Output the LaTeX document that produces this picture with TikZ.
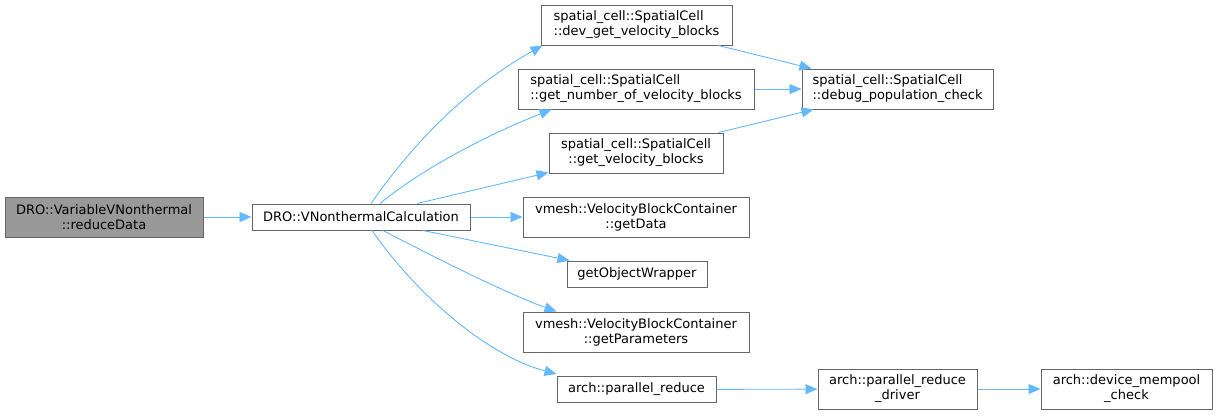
\documentclass[tikz,border=0pt]{standalone}
\usepackage{fontspec}
\setmainfont{DejaVu Sans}
\usetikzlibrary{arrows.meta}

\begin{document}
\begin{tikzpicture}[
    x=1pt, y=-1pt,
    every node/.style={font=\fontsize{13}{15}\selectfont},
]

% ---------------------------------------------------------------- colours
\definecolor{edgecol}{HTML}{63B8FF}   % the calls
\definecolor{boxline}{HTML}{666666}   % every box outline
\definecolor{rootfill}{HTML}{999999}  % the function the graph is about

% ================================================================
% Geometry in reference pixels (y grows downwards):
%   call column  x = 636, boxes 40 high (two lines) or 26 (one line)
%   second column x = 897.5, last box on the bottom row at x = 1126.5
% ================================================================

\useasboundingbox (0,0) rectangle (1217,415);

\tikzset{
    fnbox/.style={
        draw=boxline, line width=1pt, fill=white,
        inner sep=0pt, align=center,
        minimum height=40pt,
    },
    fnone/.style={fnbox, minimum height=26pt},
    rootbox/.style={fnbox, fill=rootfill},
    edge/.style={draw=edgecol, line width=0.9pt,
        -{Triangle[length=12pt, width=10pt]}},
}

% ================================================================ left
\node[rootbox, minimum width=198pt] (root) at (104,217)
    {DRO::VariableVNonthermal\\::reduceData};
\node[fnone, minimum width=218pt] (calc) at (361,217)
    {DRO::VNonthermalCalculation};

% ================================================================ callees
\node[fnbox, align=left, minimum width=191pt] (devblocks) at (636.5,25)
    {spatial\_cell::SpatialCell\\::dev\_get\_velocity\_blocks};
\node[fnbox, align=left, minimum width=236pt] (nblocks) at (636,89)
    {spatial\_cell::SpatialCell\\::get\_number\_of\_velocity\_blocks};
\node[fnbox, minimum width=174pt] (vblocks) at (636,153)
    {spatial\_cell::SpatialCell\\::get\_velocity\_blocks};
\node[fnbox, minimum width=226pt] (getdata) at (636,217)
    {vmesh::VelocityBlockContainer\\::getData};
\node[fnone, minimum width=140pt] (objwrap) at (637,274)
    {getObjectWrapper};
\node[fnbox, minimum width=226pt] (getparams) at (636,332)
    {vmesh::VelocityBlockContainer\\::getParameters};
\node[fnone, minimum width=159pt] (preduce) at (636.5,389.5)
    {arch::parallel\_reduce};

% ================================================================ right
\node[fnbox, align=left, minimum width=191pt] (popcheck) at (897.5,89)
    {spatial\_cell::SpatialCell\\::debug\_population\_check};
\node[fnbox, minimum width=159pt] (redriver) at (897.5,389)
    {arch::parallel\_reduce\\\_driver};
\node[fnbox, minimum width=171pt] (mempool) at (1126.5,389)
    {arch::device\_mempool\\\_check};

% ================================================================ calls
\draw[edge] (root) -- (calc);

\draw[edge] ([xshift=10pt]calc.north)
    .. controls +(46,-66) and +(-70,39) .. ([xshift=2pt]devblocks.south west);
\draw[edge] ([xshift=19pt]calc.north)
    .. controls +(46,-38) and +(-56,22) .. ([xshift=34pt]nblocks.south west);
\draw[edge] ([xshift=56pt]calc.north) -- ([yshift=1pt]vblocks.south west);
\draw[edge] (calc) -- (getdata);
\draw[edge] ([xshift=62pt]calc.south) -- ([xshift=3pt]objwrap.north west);
\draw[edge] ([xshift=22pt]calc.south)
    .. controls +(50,26) and +(-50,-18) .. ([xshift=34pt]getparams.north west);
\draw[edge] ([xshift=11pt]calc.south)
    .. controls +(46,66) and +(-68,-18) .. ([yshift=2pt]preduce.north west);

\draw[edge] ([xshift=-14pt]devblocks.south east) -- ([xshift=10pt]popcheck.north west);
\draw[edge] (nblocks) -- (popcheck);
\draw[edge] ([xshift=-5pt]vblocks.north east) -- ([xshift=12pt]popcheck.south west);

\draw[edge] (preduce) -- (redriver);
\draw[edge] (redriver) -- (mempool);

\end{tikzpicture}
\end{document}
